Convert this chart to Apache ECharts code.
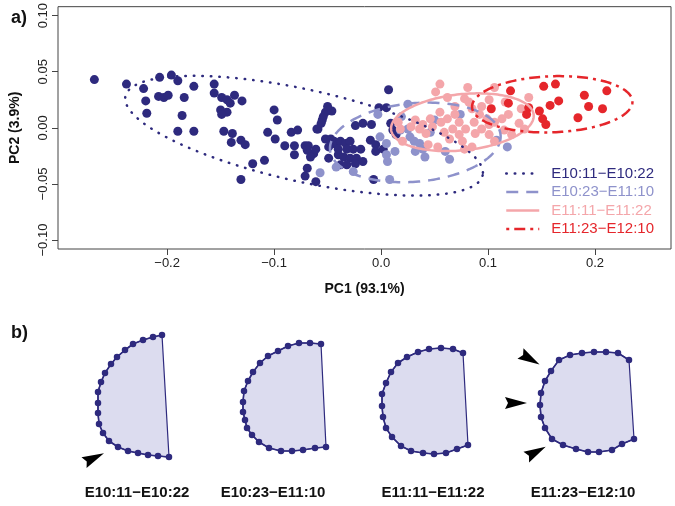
<!DOCTYPE html>
<html>
<head>
<meta charset="utf-8">
<script src="https://cdn.jsdelivr.net/npm/echarts@6/dist/echarts.min.js"></script>
<style>
html, body { margin: 0; background: #fff; }
#chart { width: 675px; height: 506px; }
</style>
</head>
<body>
<div id="chart"></div>
<script>
const FONT = '"Liberation Sans", Arial, sans-serif'
const GROUPS = ['E10:11−E10:22', 'E10:23−E11:10', 'E11:11−E11:22', 'E11:23−E12:10']
const COLORS = ['#2e2a7e', '#8e92cb', '#f4a6aa', '#e5262b']
const DASHES = [[0.5, 8], [12, 8], null, [3, 5, 11, 5]]
const CAPS = ['round', 'butt', 'butt', 'butt']
const SHAPE_FILL = '#dcdcef'
const ARROW_PATH = 'path://M6,0 L12,22 L6,19 L0,22 Z'

const xTicks = [-0.2, -0.1, 0, 0.1, 0.2]
const yTicks = [-0.1, -0.05, 0, 0.05, 0.1]

// PCA scores
const ptsE1011 = [
  [-0.268, 0.043], [-0.238, 0.039], [-0.222, 0.035], [-0.220, 0.024], [-0.219, 0.013],
  [-0.207, 0.045], [-0.196, 0.047], [-0.190, 0.042], [-0.208, 0.028], [-0.203, 0.027],
  [-0.199, 0.029], [-0.184, 0.027], [-0.175, 0.037], [-0.186, 0.011], [-0.190, -0.003],
  [-0.175, -0.003], [-0.156, 0.039], [-0.156, 0.031], [-0.149, 0.027], [-0.144, 0.025],
  [-0.141, 0.022], [-0.137, 0.029], [-0.130, 0.024], [-0.150, 0.016], [-0.144, 0.014],
  [-0.149, 0.012], [-0.147, -0.003], [-0.139, -0.005], [-0.140, -0.013], [-0.131, -0.011],
  [-0.127, -0.015], [-0.120, -0.032], [-0.109, -0.029], [-0.131, -0.046], [-0.100, 0.016],
  [-0.097, 0.007], [-0.106, -0.004], [-0.099, -0.010], [-0.090, -0.016], [-0.084, -0.004],
  [-0.078, -0.002], [-0.081, -0.016], [-0.081, -0.024], [-0.071, -0.016], [-0.068, -0.016],
  [-0.063, -0.023], [-0.069, -0.020], [-0.066, -0.026], [-0.069, -0.036], [-0.071, -0.043],
  [-0.061, -0.048], [-0.059, -0.001], [-0.055, 0.007], [-0.052, 0.014], [-0.046, 0.015],
  [-0.052, -0.010], [-0.047, -0.010], [-0.049, -0.027], [-0.042, -0.015], [-0.040, -0.024],
  [-0.038, -0.033], [0.007, 0.034], [-0.002, 0.018], [0.005, 0.018], [-0.009, 0.003],
  [-0.017, 0.004], [-0.024, 0.002], [0.009, 0.004], [0.011, -0.002], [0.014, -0.006],
  [-0.050, 0.019], [-0.054, 0.010], [-0.056, 0.004], [-0.060, -0.001], [-0.049, -0.017],
  [-0.044, -0.012], [-0.038, -0.012], [-0.033, -0.014], [-0.029, -0.012], [-0.040, -0.019],
  [-0.032, -0.019], [-0.026, -0.019], [-0.019, -0.019], [-0.035, -0.026], [-0.029, -0.027],
  [-0.023, -0.027], [-0.032, -0.033], [-0.024, -0.032], [-0.017, -0.030], [-0.010, -0.011],
  [-0.005, -0.015], [-0.005, -0.021], [0.002, -0.019], [-0.061, -0.019], [-0.007, -0.046]
]
const ptsE1023 = [
  [-0.057, -0.040], [-0.003, 0.012], [-0.001, -0.008], [0.005, -0.014], [0.013, -0.021],
  [0.006, -0.030], [-0.042, -0.035], [0.008, -0.046], [0.025, 0.021], [0.027, -0.008],
  [0.031, -0.012], [0.036, -0.014], [0.032, -0.021], [0.041, -0.026], [0.064, -0.028],
  [0.060, -0.021], [0.025, -0.001], [0.018, -0.002], [0.039, -0.019], [0.074, 0.012],
  [0.118, -0.017], [0.108, -0.011], [0.005, -0.024], [0.046, -0.004], [0.050, 0.007],
  [0.019, 0.010], [-0.026, -0.039]
]
const ptsE1111 = [
  [0.055, 0.039], [0.051, 0.032], [0.081, 0.036], [0.078, 0.026], [0.106, 0.036],
  [0.116, 0.023], [0.138, 0.027], [0.131, 0.017], [0.119, 0.012], [0.129, 0.004],
  [0.134, -0.001], [0.106, -0.012], [0.078, -0.019], [0.053, -0.017], [0.044, -0.015],
  [0.018, -0.001], [0.016, 0.005], [0.028, 0.001], [0.039, 0.003], [0.055, 0.014],
  [0.056, 0.005], [0.062, 0.008], [0.069, 0.012], [0.073, 0.005], [0.067, -0.001],
  [0.059, -0.004], [0.064, -0.010], [0.073, -0.006], [0.079, -0.001], [0.087, 0.005],
  [0.092, 0.012], [0.099, 0.008], [0.094, -0.001], [0.101, 0.003], [0.106, 0.005],
  [0.113, 0.008], [0.115, -0.002], [0.101, -0.006], [0.088, -0.005], [0.048, 0.001],
  [0.042, -0.005], [0.036, -0.001], [0.085, 0.017], [0.094, 0.019], [0.082, 0.023],
  [0.101, 0.025], [0.032, 0.007], [0.046, 0.008], [0.069, 0.019], [0.076, -0.012],
  [0.122, -0.006], [0.085, -0.017], [0.020, -0.012], [0.062, 0.027]
]
const ptsE1123 = [
  [0.121, 0.033], [0.152, 0.037], [0.163, 0.039], [0.190, 0.029], [0.211, 0.033],
  [0.119, 0.022], [0.103, 0.017], [0.138, 0.018], [0.158, 0.020], [0.166, 0.024],
  [0.194, 0.019], [0.207, 0.017], [0.136, 0.012], [0.148, 0.015], [0.151, 0.008],
  [0.154, 0.003], [0.184, 0.009]
]
const POINTS = [ptsE1011, ptsE1023, ptsE1111, ptsE1123]

// ellipses: centre x, centre y, half length (PC1 units), half width (PC2 units), tilt (deg, clockwise)
const ellipseE1011 = [-0.072, -0.007, 0.171, 0.041, 12.5]
const ellipseE1023 = [0.032, -0.013, 0.080, 0.035, -5]
const ellipseE1111 = [0.076, 0.005, 0.067, 0.025, -6]
const ellipseE1123 = [0.160, 0.021, 0.075, 0.025, -2]
const ELLIPSES = [ellipseE1011, ellipseE1023, ellipseE1111, ellipseE1123]

// panel b outlines (local units, y up)
const outlineE1011 = [
  [100, 135], [91, 133], [81, 130], [71, 126], [63, 120], [55, 113], [49, 106], [43, 97],
  [39, 88], [36, 78], [36, 67], [36, 57], [37, 46], [41, 37], [47, 29], [56, 23], [66, 19],
  [76, 17], [86, 15], [96, 14], [107, 13]
]
const outlineE1023 = [
  [123, 126], [112, 127], [101, 127], [90, 124], [80, 119], [70, 114], [62, 107], [55, 98],
  [50, 89], [46, 79], [45, 68], [45, 58], [47, 50], [49, 42], [54, 35], [61, 28], [71, 22],
  [83, 19], [94, 19], [105, 20], [117, 22], [128, 23]
]
const outlineE1111 = [
  [105, 117], [95, 121], [83, 122], [71, 121], [60, 118], [49, 113], [40, 107], [33, 98],
  [28, 87], [24, 76], [24, 64], [25, 53], [28, 42], [34, 33], [43, 24], [53, 19], [65, 17],
  [76, 16], [88, 17], [99, 21], [110, 25]
]
const outlineE1123 = [
  [121, 110], [110, 117], [98, 118], [86, 118], [74, 117], [62, 115], [51, 110], [43, 99],
  [37, 89], [33, 77], [32, 65], [33, 53], [37, 42], [44, 31], [55, 25], [68, 21], [80, 18],
  [91, 18], [104, 20], [114, 26], [126, 31]
]
const OUTLINES = [outlineE1011, outlineE1023, outlineE1111, outlineE1123]

// arrowheads: position and direction (deg above horizontal, pointing right)
const arrowsE1011 = [[32, 12, 25]]
const arrowsE1123 = [[22, 111, -30], [8, 67, 0], [28, 18, 28]]
const ARROWS = [arrowsE1011, [], [], arrowsE1123]

const PANEL_B_LEFT = [62, 198, 358, 508]

const chart = echarts.init(document.getElementById('chart'))

function ellipseRender(color, dash, cap) {
  return function (params, api) {
    const c = api.coord([api.value(0), api.value(1)])
    const a = api.size([api.value(2), 0])[0]
    const b = api.size([0, api.value(3)])[1]
    const t = api.value(4) * Math.PI / 180
    const pts = []
    for (let i = 0; i < 180; i++) {
      const s = i / 180 * 2 * Math.PI
      const ex = a * Math.cos(s)
      const ey = b * Math.sin(s)
      pts.push([c[0] + ex * Math.cos(t) - ey * Math.sin(t), c[1] + ex * Math.sin(t) + ey * Math.cos(t)])
    }
    return {
      type: 'polygon',
      shape: { points: pts },
      style: { fill: 'none', stroke: color, lineWidth: 2.5, lineDash: dash || null, lineCap: cap },
    }
  }
}

const series = []

// legend carriers (no data, carry the line style shown in the legend)
GROUPS.forEach((g, i) => {
  series.push({
    name: g,
    type: 'line',
    data: [],
    symbol: 'none',
    color: COLORS[i],
    lineStyle: { color: COLORS[i], width: 2.5, type: DASHES[i] || 'solid', cap: CAPS[i] },
  })
})

GROUPS.forEach((g, i) => {
  series.push({
    name: g,
    type: 'scatter',
    data: POINTS[i],
    symbolSize: 9,
    itemStyle: { color: COLORS[i], opacity: 1 },
    z: 2,
  })
})

GROUPS.forEach((g, i) => {
  series.push({
    name: g,
    type: 'custom',
    data: [ELLIPSES[i]],
    encode: { x: 0, y: 1 },
    renderItem: ellipseRender(COLORS[i], DASHES[i], CAPS[i]),
    z: 3,
    silent: true,
  })
})

OUTLINES.forEach((outline, k) => {
  const idx = k + 1
  series.push({
    type: 'custom',
    xAxisIndex: idx,
    yAxisIndex: idx,
    data: [[0, 0]],
    renderItem: (params, api) => ({
      type: 'polygon',
      shape: { points: outline.map((p) => api.coord(p)) },
      style: { fill: SHAPE_FILL, stroke: COLORS[0], lineWidth: 1.2 },
    }),
    z: 1,
    silent: true,
  })
  series.push({
    type: 'line',
    xAxisIndex: idx,
    yAxisIndex: idx,
    data: outline,
    symbol: 'circle',
    symbolSize: 6.5,
    showAllSymbol: true,
    lineStyle: { color: COLORS[0], width: 1.6 },
    itemStyle: { color: COLORS[0] },
    z: 2,
    silent: true,
  })
  if (ARROWS[k].length) {
    series.push({
      type: 'scatter',
      xAxisIndex: idx,
      yAxisIndex: idx,
      clip: false,
      symbol: ARROW_PATH,
      symbolSize: [12, 22],
      itemStyle: { color: '#000', opacity: 1 },
      data: ARROWS[k].map((a) => ({ value: [a[0], a[1]], symbolRotate: -90 + a[2] })),
      z: 3,
      silent: true,
    })
  }
})

const fmt = (v, d) => (v < 0 ? '−' : '') + Math.abs(v).toFixed(d)

const grids = [{ left: 52, right: 4, top: 4, bottom: 257, show: true, borderColor: '#444', borderWidth: 1 }]
const xAxes = [{
  type: 'value',
  min: -0.302,
  max: 0.271,
  name: 'PC1 (93.1%)',
  nameLocation: 'middle',
  nameGap: 33,
  nameTextStyle: { fontFamily: FONT, fontSize: 14, fontWeight: 'bold', color: '#111' },
  axisLine: { show: false, onZero: false },
  axisTick: { show: true, length: 6, customValues: xTicks, lineStyle: { color: '#444' } },
  axisLabel: { customValues: xTicks, formatter: (v) => fmt(v, 1), fontFamily: FONT, fontSize: 13, color: '#222', margin: 8 },
  splitLine: { show: false },
}]
const yAxes = [{
  type: 'value',
  min: -0.108,
  max: 0.108,
  name: 'PC2 (3.9%)',
  nameLocation: 'middle',
  nameGap: 36,
  nameTextStyle: { fontFamily: FONT, fontSize: 14, fontWeight: 'bold', color: '#111' },
  axisLine: { show: false, onZero: false },
  axisTick: { show: true, length: 6, customValues: yTicks, lineStyle: { color: '#444' } },
  axisLabel: { customValues: yTicks, formatter: (v) => fmt(v, 2), rotate: 90, fontFamily: FONT, fontSize: 13, color: '#222', margin: 8 },
  splitLine: { show: false },
}]

PANEL_B_LEFT.forEach((left, k) => {
  grids.push({ left, top: 320, width: 150, height: 150 })
  xAxes.push({
    gridIndex: k + 1,
    type: 'value',
    min: 0,
    max: 150,
    name: GROUPS[k],
    nameLocation: 'middle',
    nameGap: 15,
    nameTextStyle: { fontFamily: FONT, fontSize: 15, fontWeight: 'bold', color: '#111' },
    axisLine: { show: false, onZero: false },
    axisTick: { show: false },
    axisLabel: { show: false },
    splitLine: { show: false },
  })
  yAxes.push({ gridIndex: k + 1, type: 'value', min: 0, max: 150, show: false })
})

const panelTag = (t, top) => ({
  text: `{b|${t}}{n|)}`,
  left: 6,
  top,
  textStyle: {
    rich: {
      b: { fontSize: 18, fontWeight: 'bold', fontFamily: FONT, color: '#111' },
      n: { fontSize: 18, fontFamily: FONT, color: '#111' },
    },
  },
})

chart.setOption({
  backgroundColor: '#fff',
  animation: false,
  textStyle: { fontFamily: FONT },
  title: [panelTag('a', 4), panelTag('b', 319)],
  legend: {
    data: GROUPS.map((g, i) => ({ name: g, textStyle: { color: COLORS[i] } })),
    orient: 'vertical',
    left: 500,
    top: 161,
    itemWidth: 33,
    itemHeight: 14,
    itemGap: 3.5,
    selectedMode: false,
    itemStyle: { color: 'transparent', borderWidth: 0 },
    lineStyle: { width: 'inherit' },
    textStyle: { fontFamily: FONT, fontSize: 15, padding: [0, 0, 0, 7] },
  },
  grid: grids,
  xAxis: xAxes,
  yAxis: yAxes,
  series,
})
</script>
</body>
</html>
